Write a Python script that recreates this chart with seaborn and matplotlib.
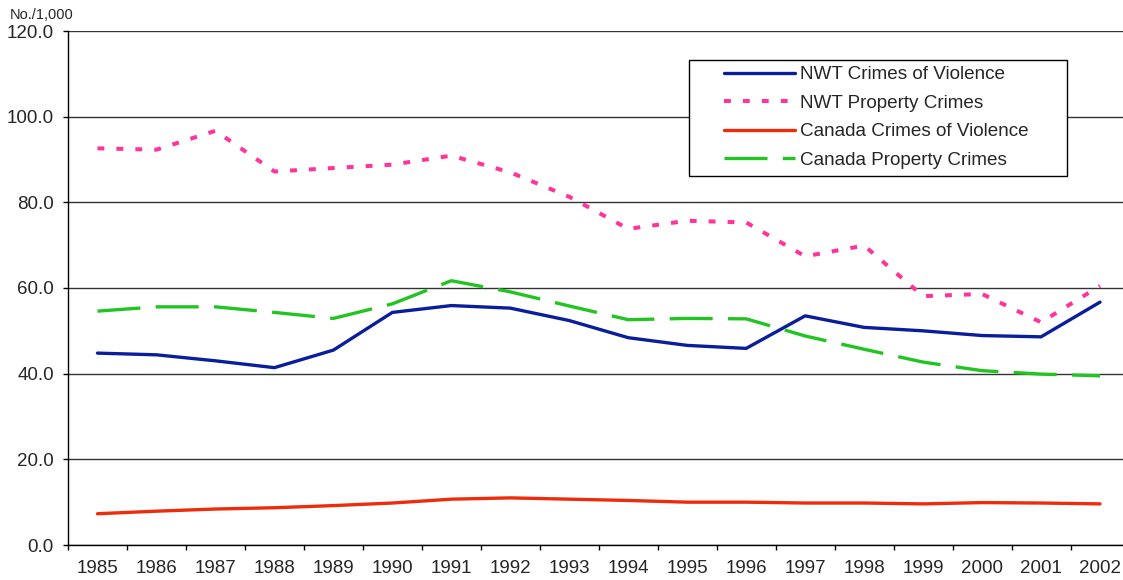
import numpy as np
import pandas as pd
import matplotlib
matplotlib.use("Agg")
import matplotlib.pyplot as plt
from matplotlib.patches import Rectangle
import seaborn as sns

years = ["1985", "1986", "1987", "1988", "1989", "1990", "1991", "1992", "1993",
         "1994", "1995", "1996", "1997", "1998", "1999", "2000", "2001", "2002"]
nwt_violence = [44.8, 44.4, 43.0, 41.4, 45.5, 54.3, 55.9, 55.3, 52.4,
                48.4, 46.6, 45.9, 53.5, 50.8, 50.0, 48.9, 48.6, 56.7]
nwt_property = [92.6, 92.3, 96.7, 87.2, 88.0, 88.8, 90.9, 87.0, 81.3,
                73.8, 75.7, 75.3, 67.4, 69.9, 58.1, 58.6, 52.0, 60.5]
can_violence = [7.3, 7.9, 8.4, 8.7, 9.2, 9.8, 10.7, 11.0, 10.7,
                10.4, 10.0, 10.0, 9.8, 9.8, 9.6, 9.9, 9.8, 9.6]
can_property = [54.6, 55.6, 55.6, 54.3, 52.9, 56.3, 61.7, 59.1, 55.8,
                52.6, 52.9, 52.8, 48.8, 45.7, 42.7, 40.7, 39.9, 39.5]
series_names = ["NWT Crimes of Violence", "NWT Property Crimes",
                "Canada Crimes of Violence", "Canada Property Crimes"]
y_ticks = [0, 20, 40, 60, 80, 100, 120]
y_unit = "No./1,000"

sns.set_theme(style="white")
plt.rcParams["font.family"] = ["Liberation Sans", "DejaVu Sans"]

W, H = 1123, 580
fig = plt.figure(figsize=(W / 100, H / 100), dpi=100)
ax = fig.add_axes([68 / W, 35 / H, (1129.5 - 68) / W, (545 - 31) / H])

pos = np.arange(len(years))
styles = [
    dict(color="#0A1E9C", linewidth=2.4, linestyle="-"),
    dict(color="#FF3399", linewidth=2.9, linestyle=(0, (1.7, 3.0))),
    dict(color="#EE2C0C", linewidth=2.4, linestyle="-"),
    dict(color="#22C422", linewidth=2.4, linestyle=(0, (12.9, 4.6))),
]
values = [nwt_violence, nwt_property, can_violence, can_property]
for name, vals, st in zip(series_names, values, styles):
    df = pd.DataFrame({"x": pos, "y": vals})
    sns.lineplot(data=df, x="x", y="y", ax=ax, label=name, **st)

ax.set_xlim(-0.5, len(years) - 0.5)
ax.set_ylim(0, 120)

# y axis
ax.set_yticks(y_ticks)
ax.set_yticklabels([f"{v:.1f}" for v in y_ticks], fontsize=13.5)
ax.yaxis.grid(True, color="#333333", linewidth=1.0)
ax.xaxis.grid(False)
ax.tick_params(axis="y", length=3.6, width=1, color="black", pad=6.5, left=True)

# x axis: ticks between categories, labels at centres
ax.set_xticks(np.arange(-0.5, len(years), 1.0))
ax.set_xticklabels([])
ax.set_xticks(pos, minor=True)
ax.set_xticklabels(years, minor=True, fontsize=13.5)
ax.tick_params(axis="x", which="major", length=3.6, width=1, color="black", bottom=True)
ax.tick_params(axis="x", which="minor", length=0, pad=10.5)

ax.set_xlabel("")
ax.set_ylabel("")
for side in ["top", "right"]:
    ax.spines[side].set_visible(False)
for side in ["left", "bottom"]:
    ax.spines[side].set_color("black")
    ax.spines[side].set_linewidth(1.0)

fig.text(10 / W, 1 - 15 / H, y_unit, fontsize=10.5, va="center", ha="left")

# legend box
frame = Rectangle((689 / W, 1 - 176 / H), 378 / W, 116 / H, transform=fig.transFigure,
                  facecolor="white", edgecolor="black", linewidth=1.0, zorder=4)
frame.set_clip_on(False)
ax.add_patch(frame)

leg = ax.legend(loc="upper left", bbox_to_anchor=(724 / W, 1 - 66 / H),
                bbox_transform=fig.transFigure, fontsize=13.6, frameon=False,
                handlelength=3.75, handletextpad=0.3,
                labelspacing=0.6, borderpad=0, borderaxespad=0)
leg.set_zorder(5)

fig.savefig("out.png", dpi=100)
